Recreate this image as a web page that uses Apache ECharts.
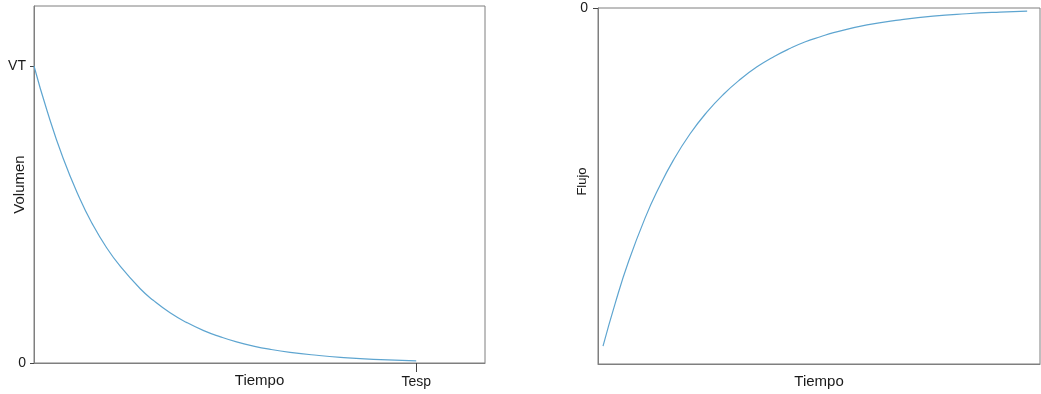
<!DOCTYPE html>
<html>
<head>
<meta charset="utf-8">
<script src="https://cdn.jsdelivr.net/npm/echarts@6/dist/echarts.min.js"></script>
<style>
  html, body { margin: 0; padding: 0; background: #fff; }
  #chart { width: 1041px; height: 394px; }
</style>
</head>
<body>
<div id="chart"></div>
<script>
// Volume emptied over time (left panel), in units of the time constant
const volumeTime = [0, 0.17, 0.38, 0.60, 0.76, 0.95, 1.13, 1.39, 1.56, 1.78, 2.00, 2.22, 2.44, 2.65, 2.87, 3.09, 3.35, 3.70, 4.01, 4.44, 5.00];
const volumeValues = [1.0, 0.85, 0.69, 0.553, 0.470, 0.388, 0.325, 0.250, 0.211, 0.169, 0.136, 0.109, 0.088, 0.071, 0.057, 0.046, 0.036, 0.026, 0.019, 0.012, 0.007];

// Expiratory flow over time (right panel), negative toward zero
const flowTime = [0, 0.14, 0.29, 0.48, 0.63, 0.80, 0.99, 1.18, 1.37, 1.56, 1.75, 1.94, 2.13, 2.30, 2.47, 2.62, 3.00, 3.38, 3.75, 4.13, 4.51, 4.82];
const flowValues = [-1.0, -0.872, -0.750, -0.620, -0.534, -0.450, -0.372, -0.308, -0.255, -0.211, -0.174, -0.144, -0.119, -0.100, -0.085, -0.073, -0.050, -0.035, -0.024, -0.017, -0.012, -0.009];

// Tick labels
const volumeTickValues = [0, 1];
const volumeTickLabels = ['0', 'VT'];
const timeTickValues = [5];
const timeTickLabels = ['Tesp'];
const flowTickValues = [0];
const flowTickLabels = ['0'];

const lineColor = '#5ea5d0';
const frameColor = '#7f7f7f';
const textColor = '#1a1a1a';
const font = 'Liberation Sans, Arial, sans-serif';

function pairs(xs, ys) { return xs.map((x, i) => [x, ys[i]]); }
function labelFor(values, labels) {
  return v => { const i = values.indexOf(v); return i >= 0 ? labels[i] : ''; };
}

const chart = echarts.init(document.getElementById('chart'), null, { renderer: 'canvas' });
chart.setOption({
  animation: false,
  backgroundColor: '#fff',
  textStyle: { fontFamily: font },
  grid: [
    { left: 34, top: 6, width: 451, height: 357, show: true, borderColor: frameColor, borderWidth: 1, containLabel: false, outerBoundsMode: 'none' },
    { left: 598, top: 8, width: 442, height: 356, show: true, borderColor: frameColor, borderWidth: 1, containLabel: false, outerBoundsMode: 'none' }
  ],
  xAxis: [
    {
      gridIndex: 0, type: 'value', min: 0, max: 5.9,
      name: 'Tiempo', nameLocation: 'middle', nameGap: 10, nameMoveOverlap: false,
      nameTextStyle: { color: textColor, fontSize: 15, fontFamily: font },
      splitLine: { show: false },
      axisLine: { show: true, onZero: false, lineStyle: { color: frameColor, width: 1 } },
      axisTick: { show: true, length: 9, customValues: timeTickValues, lineStyle: { color: '#444' } },
      axisLabel: { show: true, customValues: timeTickValues, formatter: labelFor(timeTickValues, timeTickLabels), color: textColor, fontSize: 14, margin: 12, fontFamily: font }
    },
    {
      gridIndex: 1, type: 'value', min: -0.057, max: 4.966,
      name: 'Tiempo', nameLocation: 'middle', nameGap: 10, nameMoveOverlap: false,
      nameTextStyle: { color: textColor, fontSize: 15, fontFamily: font },
      splitLine: { show: false },
      axisLine: { show: true, onZero: false, lineStyle: { color: frameColor, width: 1 } },
      axisTick: { show: false },
      axisLabel: { show: false }
    }
  ],
  yAxis: [
    {
      gridIndex: 0, type: 'value', min: 0, max: 1.202,
      name: 'Volumen', nameLocation: 'middle', nameGap: 7, nameRotate: 90, nameMoveOverlap: false,
      nameTextStyle: { color: textColor, fontSize: 15, fontFamily: font },
      splitLine: { show: false },
      axisLine: { show: true, onZero: false, lineStyle: { color: frameColor, width: 1 } },
      axisTick: { show: true, length: 4, customValues: volumeTickValues, lineStyle: { color: '#444' } },
      axisLabel: { show: true, customValues: volumeTickValues, formatter: labelFor(volumeTickValues, volumeTickLabels), color: textColor, fontSize: 14, margin: 8, fontFamily: font }
    },
    {
      gridIndex: 1, type: 'value', min: -1.053, max: 0,
      name: 'Flujo', nameLocation: 'middle', nameGap: 9, nameRotate: 90, nameMoveOverlap: false,
      nameTextStyle: { color: textColor, fontSize: 13, fontFamily: font, padding: [0, 0, 0, 9] },
      splitLine: { show: false },
      axisLine: { show: true, onZero: false, lineStyle: { color: frameColor, width: 1 } },
      axisTick: { show: true, length: 5, customValues: flowTickValues, lineStyle: { color: '#444' } },
      axisLabel: { show: true, customValues: flowTickValues, formatter: labelFor(flowTickValues, flowTickLabels), color: textColor, fontSize: 14, margin: 10, fontFamily: font }
    }
  ],
  series: [
    {
      type: 'line', xAxisIndex: 0, yAxisIndex: 0,
      data: pairs(volumeTime, volumeValues),
      smooth: 0.5, showSymbol: false, symbol: 'none',
      lineStyle: { color: lineColor, width: 1.2 }
    },
    {
      type: 'line', xAxisIndex: 1, yAxisIndex: 1,
      data: pairs(flowTime, flowValues),
      smooth: 0.5, showSymbol: false, symbol: 'none',
      lineStyle: { color: lineColor, width: 1.2 }
    }
  ]
});
</script>
</body>
</html>
